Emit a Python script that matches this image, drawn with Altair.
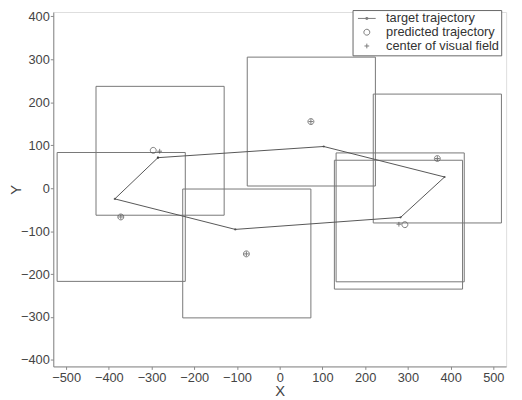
import altair as alt
import pandas as pd

# target trajectory (closed loop)
traj_x = [-285, 103, 386, 283, -104, -386, -285]
traj_y = [71, 97, 26, -68, -96, -25, 71]

# predicted trajectory
pred_x = [-296, 73, 369, 293, -78, -372]
pred_y = [88, 155, 69, -85, -153, -67]

# center of visual field
cen_x = [-281, 73, 369, 279, -78, -372]
cen_y = [86, 155, 69, -84, -153, -67]

# visual field squares (centres, side length)
box_cx = [-371, -280, 74, -77, 369, 282, 278]
box_cy = [-67, 87, 155, -152, 69, -68, -85]
box_side = 300

x_ticks = [-500, -400, -300, -200, -100, 0, 100, 200, 300, 400, 500]
y_ticks = [-400, -300, -200, -100, 0, 100, 200, 300, 400]

series = ["target trajectory", "predicted trajectory", "center of visual field"]

df_traj = pd.DataFrame({"x": traj_x, "y": traj_y, "i": list(range(len(traj_x)))})
df_box = pd.DataFrame({"cx": box_cx, "cy": box_cy})
df_box["x1"] = df_box["cx"] - box_side / 2
df_box["x2"] = df_box["cx"] + box_side / 2
df_box["y1"] = df_box["cy"] - box_side / 2
df_box["y2"] = df_box["cy"] + box_side / 2
df_pts = pd.concat([
    pd.DataFrame({"x": pred_x, "y": pred_y, "series": series[1]}),
    pd.DataFrame({"x": cen_x, "y": cen_y, "series": series[2]}),
], ignore_index=True)

FONT = "Liberation Sans"
xs = alt.Scale(domain=[-530, 530], nice=False, zero=False)
ys = alt.Scale(domain=[-415, 410], nice=False, zero=False)

xaxis = alt.Axis(values=x_ticks, title="X", grid=False, tickSize=3, labelPadding=2,
                 labelFontSize=13, titleFontSize=15, titleFontWeight="normal",
                 labelColor="#444", titleColor="#444", domainColor="#888", tickColor="#888",
                 labelFont=FONT, titleFont=FONT, labelOverlap=False, labelFlush=False, titlePadding=0)
yaxis = alt.Axis(values=y_ticks, title="Y", grid=False, tickSize=3, labelPadding=1,
                 labelFontSize=13, titleFontSize=15, titleFontWeight="normal",
                 labelColor="#444", titleColor="#444", domainColor="#888", tickColor="#888",
                 labelFont=FONT, titleFont=FONT, labelOverlap=False, labelFlush=False, titlePadding=-3)

boxes = alt.Chart(df_box).mark_rect(fill=None, stroke="#777", strokeWidth=1).encode(
    x=alt.X("x1:Q", scale=xs, axis=xaxis),
    x2="x2:Q",
    y=alt.Y("y1:Q", scale=ys, axis=yaxis),
    y2="y2:Q",
)

line = alt.Chart(df_traj).mark_line(color="#555", strokeWidth=1).encode(
    x=alt.X("x:Q", scale=xs), y=alt.Y("y:Q", scale=ys), order="i:Q"
)
dots = alt.Chart(df_traj).mark_point(filled=True, size=5, color="#333").encode(
    x=alt.X("x:Q", scale=xs), y=alt.Y("y:Q", scale=ys)
)

path_t = "M-3,0H3M-0.3,-0.3H0.3V0.3H-0.3Z"
path_c = "M-1,0A1,1 0 1,1 1,0A1,1 0 1,1 -1,0Z"
path_p = "M-0.8,0H0.8M0,-0.8V0.8"

pts = alt.Chart(df_pts).mark_point(filled=False, size=36, strokeWidth=1, color="#444").encode(
    x=alt.X("x:Q", scale=xs), y=alt.Y("y:Q", scale=ys),
    shape=alt.Shape("series:N",
                    scale=alt.Scale(domain=series, range=[path_t, path_c, path_p]),
                    legend=alt.Legend(title=None, orient="none", legendX=304, legendY=-2,
                                      strokeColor="#666", fillColor="white", padding=2,
                                      symbolOffset=6, labelOffset=13, symbolSize=36,
                                      symbolStrokeColor="#444", symbolStrokeWidth=1,
                                      labelFontSize=13, labelFont=FONT, labelColor="#333",
                                      rowPadding=-1, labelLimit=300)),
)

chart = alt.layer(boxes, line, dots, pts).properties(
    width=460, height=360,
    autosize=alt.AutoSizeParams(type="none"),
    padding={"left": 46, "top": 1, "right": 8, "bottom": 31},
).configure_view(stroke=None).configure(background="white")

chart.save("out.html", embed_options={"renderer": "svg", "actions": False})
